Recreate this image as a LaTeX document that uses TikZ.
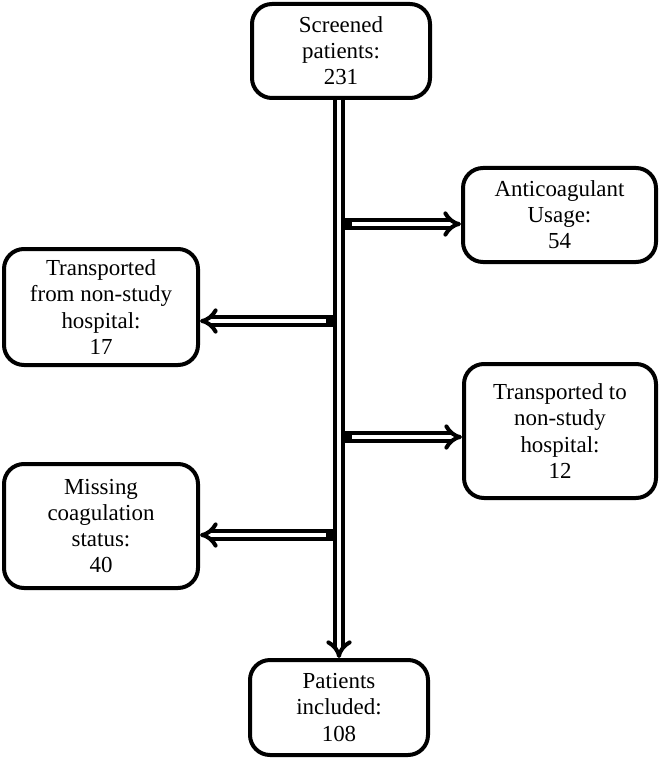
\documentclass[tikz,border=0pt]{standalone}
\usepackage{fontspec}
\setmainfont{Liberation Serif}
\usetikzlibrary{arrows.meta}
\tikzset{
  box/.style={draw,line width=3pt,rounded corners=15pt,align=center,
    font=\fontsize{17.2}{19.6}\selectfont,inner sep=0pt},
  flow/.style={double,line width=3pt,double distance=3pt,-{Implies[length=9pt]}},
  joint/.style={fill=black}
}
\begin{document}
\begin{tikzpicture}[x=0.75pt,y=-0.75pt]
\useasboundingbox (0,0) rectangle (661,759);
% boxes
\node[box,minimum width=178pt*0.75,minimum height=94pt*0.75] (screen) at (341,51) {Screened\\patients:\\231};
\node[box,minimum width=193pt*0.75,minimum height=94pt*0.75] (anti) at (559.5,215) {Anticoagulant\\Usage:\\54};
\node[box,minimum width=194pt*0.75,minimum height=116pt*0.75] (from) at (101,307) {Transported\\from non-study\\hospital:\\17};
\node[box,minimum width=192pt*0.75,minimum height=134pt*0.75] (to) at (560,431) {Transported to\\non-study\\hospital:\\12};
\node[box,minimum width=194pt*0.75,minimum height=124pt*0.75] (miss) at (101,526) {Missing\\coagulation\\status:\\40};
\node[box,minimum width=178pt*0.75,minimum height=95pt*0.75] (incl) at (339,707.5) {Patients\\included:\\108};

% joints on the shaft
\coordinate (j1) at (345,224);
\coordinate (j2) at (333,321);
\coordinate (j3) at (345,437);
\coordinate (j4) at (333,535);

% side arrows
\draw[flow] (j1) -- (anti.west |- j1);
\draw[flow] (j2) -- (from.east |- j2);
\draw[flow] (j3) -- (to.west |- j3);
\draw[flow] (j4) -- (miss.east |- j4);
\fill[joint] ([yshift=-4.5]j1) rectangle ([xshift=5,yshift=4.5]j1);
\fill[joint] ([yshift=-4.5]j2) rectangle ([xshift=-5,yshift=4.5]j2);
\fill[joint] ([yshift=-4.5]j3) rectangle ([xshift=5,yshift=4.5]j3);
\fill[joint] ([yshift=-4.5]j4) rectangle ([xshift=-5,yshift=4.5]j4);

% main shaft
\draw[flow] ([xshift=-1.5]screen.south) -- (incl.north);
\end{tikzpicture}
\end{document}
